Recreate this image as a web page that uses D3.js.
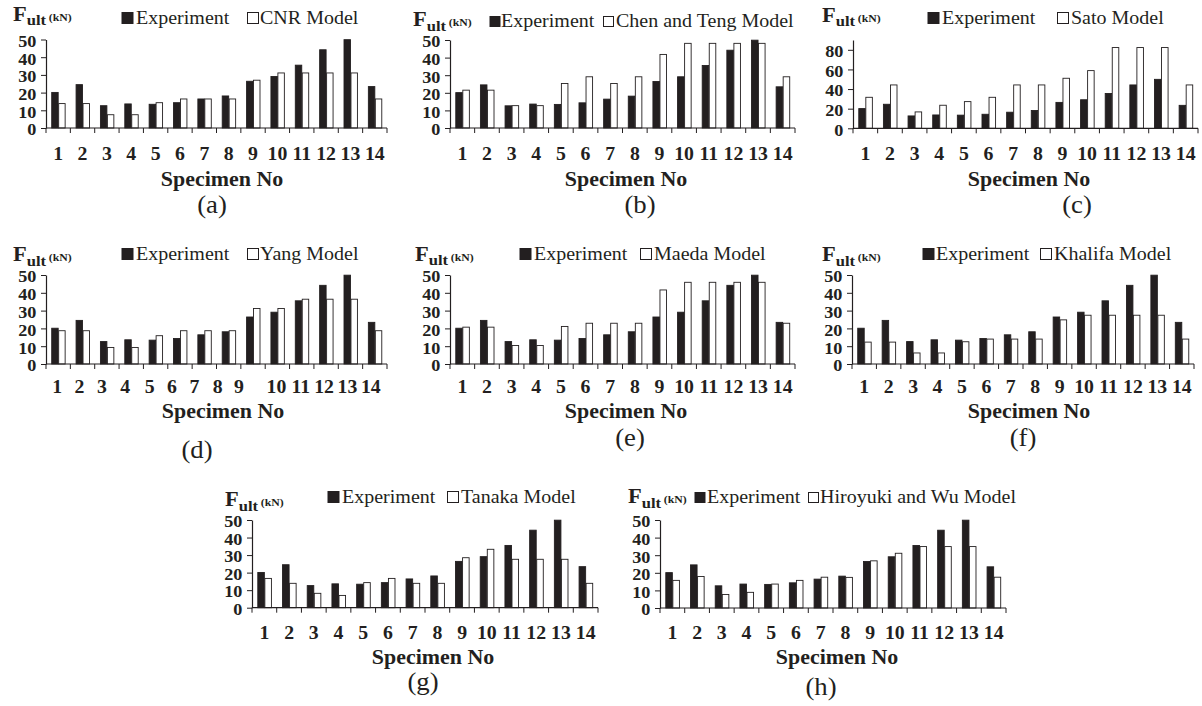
<!DOCTYPE html>
<html>
<head>
<meta charset="utf-8">
<title>Fult comparison</title>
<script src="https://cdn.jsdelivr.net/npm/d3@7"></script>
<style>
	body{margin:0;background:#fff;}
	svg text{font-family:"Liberation Serif","Times New Roman",serif;fill:#231f20;}
</style>
</head>
<body>
<script>
// specimen numbers and measured / predicted ultimate loads (kN)
var specimens=["1","2","3","4","5","6","7","8","9","10","11","12","13","14"];
var experiment=[20.1,24.5,12.6,13.6,13.4,14.3,16.4,18.1,26.4,29.1,35.5,44.2,49.9,23.4];
var cnr=[13.8,13.8,7.5,7.5,14.3,16.4,16.4,16.4,27.0,31.1,31.1,31.1,31.1,16.4];
var chenTeng=[21.5,21.5,12.7,12.7,25.3,29.1,25.3,29.1,41.8,48.1,48.1,48.1,48.1,29.1];
var sato=[31.6,44.2,16.7,23.5,27.2,31.6,44.2,44.2,51.0,58.8,82.3,82.3,82.3,44.2];
var yang=[18.7,18.7,9.3,9.3,15.9,18.7,18.7,18.7,31.2,31.2,36.4,36.4,36.4,18.7];
var maeda=[20.7,20.7,10.4,10.4,21.1,22.9,22.9,22.9,41.6,45.9,45.9,45.9,45.9,22.9];
var khalifa=[12.3,12.3,6.2,6.2,12.5,14.0,14.0,14.0,24.8,27.4,27.4,27.4,27.4,14.0];
var tanaka=[16.7,13.9,8.2,7.0,14.3,16.7,13.9,13.9,28.5,33.3,27.6,27.6,27.6,13.9];
var hiroyuki=[15.7,17.9,7.7,8.9,13.6,15.7,17.5,17.4,26.8,31.1,34.9,34.9,34.9,17.5];
var ticks50=[0,10,20,30,40,50];
var ticks90=[0,20,40,60,80];

// panel layout (pixels)
var panels=[
	{tag:"(a)",model:"CNR Model",vals:cnr,max:50,ticks:ticks50,x0:46,x1:387,base:128,top:39.5,fx:13,hy:20.7,ly:24,sq:11,s1:122,t1:136,s2:247,t2:260,xl:159.5,ty:186,tx:222,px:212,py:213},
	{tag:"(b)",model:"Chen and Teng Model",vals:chenTeng,max:50,ticks:ticks50,x0:450,x1:795,base:128,top:40,fx:413,hy:26,ly:27,sq:10,s1:490,t1:501,s2:603,t2:616,xl:159.5,ty:186,tx:626,px:640,py:213},
	{tag:"(c)",model:"Sato Model",vals:sato,max:90,ticks:ticks90,x0:853,x1:1198,base:128.3,top:40,fx:822,hy:21.7,ly:24,sq:11,s1:928,t1:942,s2:1057,t2:1071,xl:159.5,ty:186,tx:1029,px:1077,py:213},
	{tag:"(d)",model:"Yang Model",vals:yang,max:50,ticks:ticks50,x0:46,x1:387,base:364,top:275,fx:13,hy:261,ly:260,sq:11,s1:122,t1:136,s2:247,t2:260,xl:393,ty:418,tx:223,px:197,py:458,shift:[-1,-3,-5,-6,-6,-8,-10,-11,-14,-1,-1,-2,-3,-4]},
	{tag:"(e)",model:"Maeda Model",vals:maeda,max:50,ticks:ticks50,x0:450,x1:795,base:364,top:275,fx:415,hy:260.5,ly:260,sq:11,s1:520,t1:534,s2:640,t2:654,xl:393,ty:418,tx:626,px:630,py:446},
	{tag:"(f)",model:"Khalifa Model",vals:khalifa,max:50,ticks:ticks50,x0:852,x1:1194,base:364,top:275,fx:822,hy:261,ly:260,sq:11,s1:923,t1:936,s2:1040,t2:1054,xl:393,ty:418,tx:1029,px:1023,py:446},
	{tag:"(g)",model:"Tanaka Model",vals:tanaka,max:50,ticks:ticks50,x0:252,x1:598,base:607.7,top:520,fx:225,hy:506,ly:503,sq:11,s1:328,t1:342,s2:447,t2:461,xl:639,ty:664,tx:433,px:423,py:690},
	{tag:"(h)",model:"Hiroyuki and Wu Model",vals:hiroyuki,max:50,ticks:ticks50,x0:660,x1:1006,base:608,top:520,fx:628,hy:503,ly:503,sq:10,s1:695,t1:707,s2:808,t2:820,xl:639,ty:664,tx:837,px:821,py:695}
];

var ink="#231f20";
var SX=1.07;	// the scanned figure is slightly wider than tall
var svg=d3.select("body").append("svg")
	.attr("width",1202)
	.attr("height",706);

function txt(parent,x,y,size,bold,anchor,str){
	return parent.append("text")
		.attr("transform","translate("+x+","+y+") scale("+SX+",1)")
		.attr("text-anchor",anchor)
		.style("font-size",size+"px")
		.style("font-weight",bold?"bold":"normal")
		.text(str);
}

panels.forEach(function(p){
	var g=svg.append("g");
	var x=d3.scaleBand().domain(specimens).range([p.x0,p.x1]).padding(0);
	var step=x.bandwidth(),
		w=step/3.5;
	var xs=d3.scaleBand().domain(["exp","model"]).range([step/2-w,step/2+w]);
	var y=d3.scaleLinear().domain([0,p.max]).range([p.base,p.top]);

	// bars
	var rows=specimens.map(function(s,i){return {s:s,exp:experiment[i],model:p.vals[i]};});
	var grp=g.selectAll(".grp").data(rows).enter().append("g")
		.attr("transform",function(d){return "translate("+x(d.s)+",0)";});
	grp.selectAll("rect").data(function(d){return [{k:"exp",v:d.exp},{k:"model",v:d.model}];})
		.enter().append("rect")
		.attr("x",function(d){return xs(d.k)+0.5;})
		.attr("y",function(d){return y(d.v);})
		.attr("width",xs.bandwidth()-0.5)
		.attr("height",function(d){return y(0)-y(d.v);})
		.attr("fill",function(d){return d.k=="exp"?ink:"#fff";})
		.attr("stroke",ink)
		.attr("stroke-width",0.9);

	// y axis
	var ya=g.append("g")
		.attr("transform","translate("+p.x0+",0)")
		.call(d3.axisLeft(y).tickValues(p.ticks).tickSize(5).tickSizeOuter(0).tickPadding(4));
	ya.select(".domain").attr("stroke",ink).attr("stroke-width",1.2);
	ya.selectAll(".tick line").attr("stroke",ink);
	ya.selectAll(".tick text")
		.attr("fill",ink)
		.attr("dy","0.4em")
		.attr("transform","scale("+SX+",1)")
		.style("font-size","17px")
		.style("font-weight","bold")
		.style("font-family","Liberation Serif");

	// x axis line with boundary ticks
	g.append("line")
		.attr("x1",p.x0).attr("x2",p.x1)
		.attr("y1",p.base).attr("y2",p.base)
		.attr("stroke",ink).attr("stroke-width",1.2);
	g.selectAll(".bt").data(d3.range(15)).enter().append("line")
		.attr("x1",function(i){return p.x0+i*step;})
		.attr("x2",function(i){return p.x0+i*step;})
		.attr("y1",p.base).attr("y2",p.base+5)
		.attr("stroke",ink).attr("stroke-width",1);
	specimens.forEach(function(s,i){
		txt(g,x(s)+step/2+(p.shift?p.shift[i]:0),p.xl,18.5,true,"middle",s);
	});

	// axis title
	txt(g,p.tx,p.ty,20.5,true,"middle","Specimen No");

	// F_ult (kN) header
	var h=txt(g,p.fx,p.hy,21,true,"start","");
	h.append("tspan").style("font-size","21px").text("F");
	h.append("tspan").style("font-size","15.5px").attr("dy",4.5).text("ult");
	h.append("tspan").style("font-size","11px").attr("dy",-4.5).attr("dx",2.5).text("(kN)");

	// legend
	g.append("rect")
		.attr("x",p.s1).attr("y",p.ly-p.sq-0.5)
		.attr("width",p.sq).attr("height",p.sq)
		.attr("fill",ink).attr("stroke",ink);
	txt(g,p.t1,p.ly,18.7,false,"start","Experiment");
	g.append("rect")
		.attr("x",p.s2+0.5).attr("y",p.ly-p.sq-0.5)
		.attr("width",p.sq).attr("height",p.sq)
		.attr("fill","#fff").attr("stroke",ink);
	txt(g,p.t2,p.ly,18.7,false,"start",p.model);

	// panel tag
	txt(g,p.px,p.py,25,false,"middle",p.tag);
});
</script>
</body>
</html>
